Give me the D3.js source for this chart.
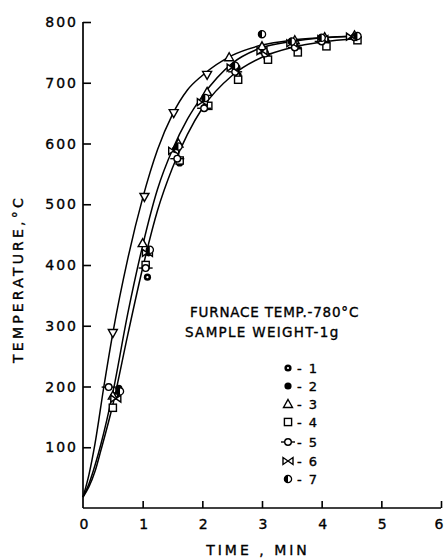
<!DOCTYPE html>
<html><head><meta charset="utf-8">
<script src="https://cdn.jsdelivr.net/npm/d3@7"></script>
<style>body{margin:0;background:#fff}svg{display:block}text{stroke:#000;stroke-width:0.35px}</style>
</head><body><svg id="c" width="445" height="558"></svg>
<script>
// ---- data ----
const xTicks = [0,1,2,3,4,5,6];
const yTicks = [100,200,300,400,500,600,700,800];
const yTickLabels = ["100","200","300","400","500","600","700","800"];
const xTitle = "TIME , MIN";
const yTitle = "TEMPERATURE,°C";
const note1 = "FURNACE TEMP.-780°C";
const note2 = "SAMPLE WEIGHT-1g";
const legendLabels = ["1","2","3","4","5","6","7"];

// fitted curves (time min, temperature °C)
const curveA = [[0,18],[0.1,55],[0.2,105],[0.35,200],[0.5,288],[0.75,410],[1.0,510],[1.25,590],[1.5,648],[1.75,688],[2.0,712],[2.5,745],[3.0,762],[3.5,770],[4.0,774],[4.6,777]];
const curveB = [[0,18],[0.1,40],[0.2,70],[0.3,105],[0.5,190],[0.75,320],[1.0,432],[1.25,525],[1.5,590],[1.75,640],[2.0,678],[2.5,732],[3.0,758],[3.5,768],[4.0,774],[4.6,777]];
const curveC = [[0,18],[0.1,35],[0.2,60],[0.3,95],[0.5,170],[0.75,285],[1.0,395],[1.25,490],[1.5,560],[1.75,615],[2.0,658],[2.5,712],[3.0,742],[3.5,758],[4.0,767],[4.6,773]];

// measured points per sample
const s1 = [[0.55,185],[1.08,380],[1.62,568],[2.05,660],[2.6,712],[3.08,742],[3.6,755],[4.08,765],[4.6,772]];
const s2 = [[0.6,197],[1.1,420],[1.55,590],[2.05,672],[2.58,725],[3.05,750],[3.55,762],[4.05,770],[4.6,775]];
const s3 = [[0.5,185],[1.0,436],[1.6,600],[2.08,685],[2.45,742],[3.0,760],[3.55,770],[4.05,775],[4.55,778]];
const s4 = [[0.5,165],[1.05,400],[1.62,572],[2.1,662],[2.6,705],[3.1,738],[3.6,750],[4.08,760],[4.6,770]];
const s5 = [[0.43,199],[1.05,395],[1.58,575],[2.03,658],[2.55,718],[3.05,748],[3.55,758],[4.0,768],[4.55,775]];
const s6 = [[0.55,180],[1.08,420],[1.52,588],[2.0,668],[2.5,725],[3.0,752],[3.5,765],[4.02,772],[4.5,776]];
const s7 = [[0.62,192],[1.12,425],[1.6,595],[2.05,675],[2.55,728],[3.0,780],[3.5,768],[4.0,774],[4.6,777]];
const sTri = [[0.5,288],[1.03,512],[1.52,650],[2.08,713]];

// ---- drawing ----
const svg = d3.select("#c");
const x = d3.scaleLinear().domain([0,6]).range([83,441]);
const y = d3.scaleLinear().domain([0,800]).range([508,22]);
const font = "'DejaVu Sans', sans-serif";

// axes
const yAxis = d3.axisRight(y).tickValues(yTicks).tickSize(8).tickFormat("");
const gy = svg.append("g").attr("transform",`translate(${x(0)},0)`).call(yAxis);
gy.select(".domain").attr("d",`M0,${y(800)}V${y(0)}`).attr("stroke","#000").attr("stroke-width",1.7);
gy.selectAll(".tick line").attr("stroke","#000").attr("stroke-width",1.6);
const xAxis = d3.axisTop(x).tickValues(xTicks.slice(1)).tickSize(7).tickFormat("");
const gx = svg.append("g").attr("transform",`translate(0,${y(0)})`).call(xAxis);
gx.select(".domain").attr("d",`M${x(0)},0H${x(6)}`).attr("stroke","#000").attr("stroke-width",1.7);
gx.selectAll(".tick line").attr("stroke","#000").attr("stroke-width",1.6);

// tick labels
svg.append("g").selectAll("text").data(yTicks).join("text")
  .attr("x",78).attr("y",d=>y(d)+5).attr("text-anchor","end")
  .attr("font-family",font).attr("font-size",14).attr("letter-spacing",2)
  .text((d,i)=>yTickLabels[i]);
svg.append("g").selectAll("text").data(xTicks).join("text")
  .attr("x",d=>d===6 ? x(d)-2 : x(d)+1).attr("y",529).attr("text-anchor","middle")
  .attr("font-family",font).attr("font-size",14)
  .text(d=>d);

// titles
svg.append("text").attr("transform","translate(23,279) rotate(-90)")
  .attr("text-anchor","middle").attr("font-family",font).attr("font-size",14)
  .attr("letter-spacing",3.2).text(yTitle);
svg.append("text").attr("x",258).attr("y",555).attr("text-anchor","middle")
  .attr("font-family",font).attr("font-size",14).attr("letter-spacing",3).text(xTitle);
svg.append("text").attr("x",190).attr("y",317).attr("font-family",font)
  .attr("font-size",13.5).attr("letter-spacing",0.8).text(note1);
svg.append("text").attr("x",185).attr("y",337).attr("font-family",font)
  .attr("font-size",13.5).attr("letter-spacing",1.3).text(note2);

// curves
const line = d3.line().x(d=>x(d[0])).y(d=>y(d[1])).curve(d3.curveMonotoneX);
[curveA,curveB,curveC].forEach(c=>{
  svg.append("path").attr("d",line(c)).attr("fill","none").attr("stroke","#000").attr("stroke-width",1.5);
});

// markers
function marker(g,type){
  const r=3.6;
  if(type===1){g.append("circle").attr("r",r).attr("fill","#000");g.append("circle").attr("r",1.1).attr("fill","#fff");}
  else if(type===2){g.append("circle").attr("r",r).attr("fill","#000");}
  else if(type===3){g.append("path").attr("d","M0,-4.5L4.5,3.5L-4.5,3.5Z").attr("fill","#fff").attr("stroke","#000").attr("stroke-width",1.4);}
  else if(type===4){g.append("rect").attr("x",-3.6).attr("y",-3.6).attr("width",7.2).attr("height",7.2).attr("fill","#fff").attr("stroke","#000").attr("stroke-width",1.4);}
  else if(type===5){g.append("path").attr("d","M-7,0H7").attr("stroke","#000").attr("stroke-width",1.4);g.append("circle").attr("r",3.3).attr("fill","#fff").attr("stroke","#000").attr("stroke-width",1.4);}
  else if(type===6){g.append("path").attr("d","M-5,-3.5L5,3.5L5,-3.5L-5,3.5Z").attr("fill","#fff").attr("stroke","#000").attr("stroke-width",1.4);}
  else if(type===7){g.append("circle").attr("r",r).attr("fill","#fff").attr("stroke","#000").attr("stroke-width",1.3);g.append("path").attr("d",`M0,-${r}A${r},${r} 0 0 0 0,${r}Z`).attr("fill","#000");}
  else if(type===8){g.append("path").attr("d","M0,4.5L4.5,-3.5L-4.5,-3.5Z").attr("fill","#fff").attr("stroke","#000").attr("stroke-width",1.4);}
}
const seriesList = [s1,s2,s3,s4,s5,s6,s7,sTri];
seriesList.forEach((s,i)=>{
  svg.append("g").selectAll("g").data(s).join("g")
    .attr("transform",d=>`translate(${x(d[0])},${y(d[1])})`)
    .each(function(){marker(d3.select(this),i+1);});
});

// legend
const legY = [368,386,404,422,442,461,479];
legendLabels.forEach((lab,i)=>{
  const g = svg.append("g").attr("transform",`translate(288,${legY[i]})`);
  marker(g,i+1);
  svg.append("text").attr("x",297).attr("y",legY[i]+5).attr("font-family",font)
    .attr("font-size",13).attr("letter-spacing",1.5).text("- "+lab);
});
</script></body></html>
